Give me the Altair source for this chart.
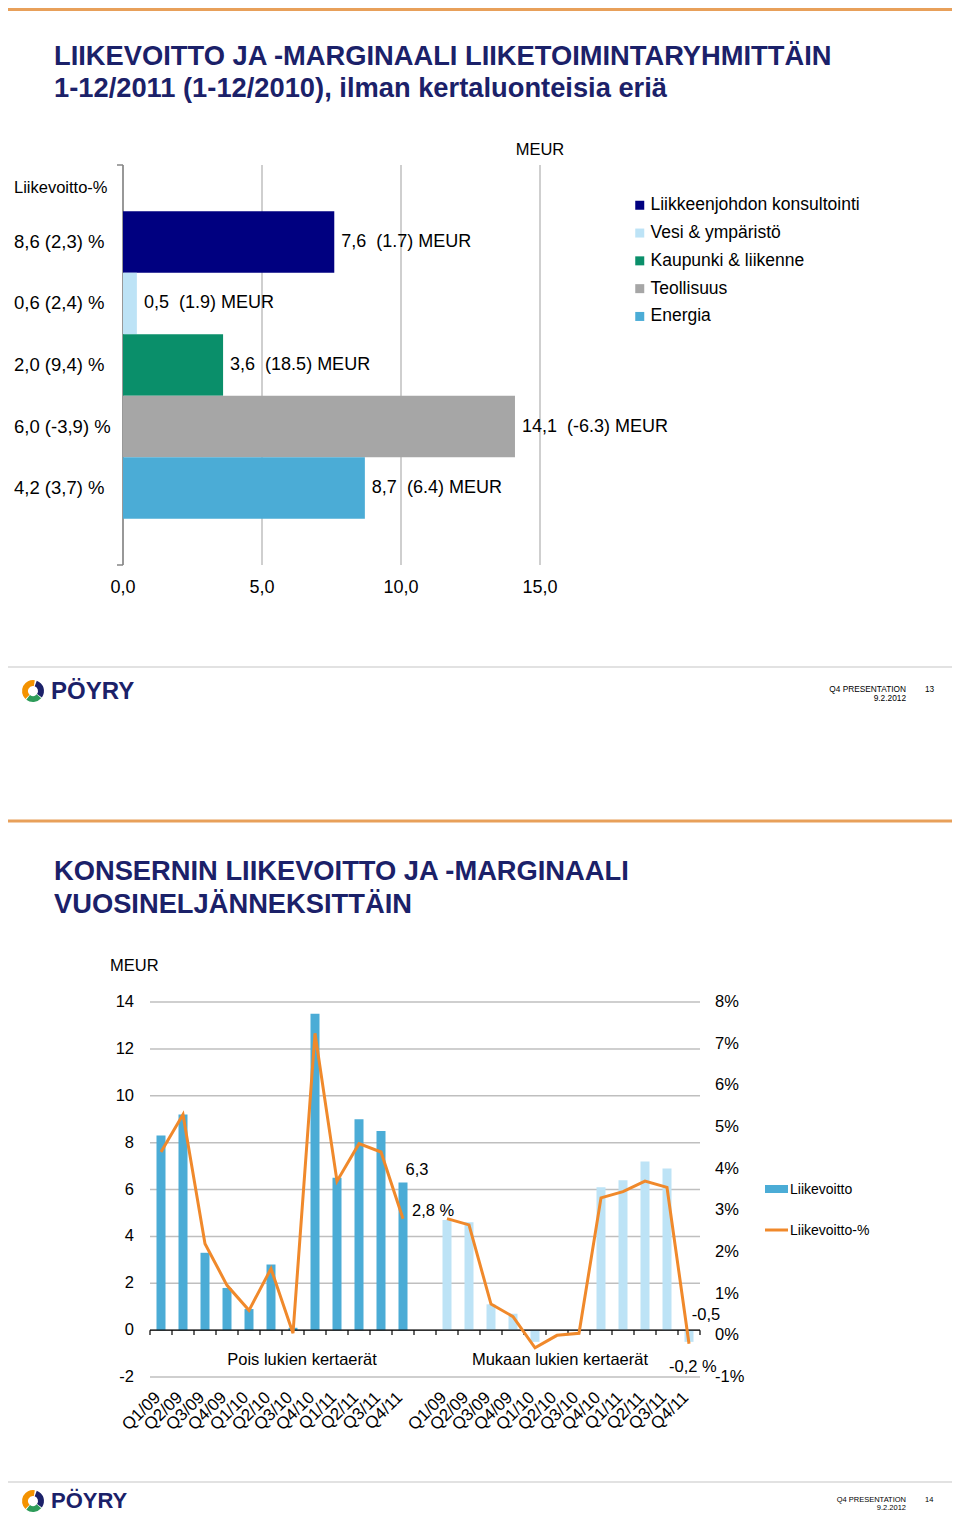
import altair as alt
import pandas as pd

FONT = "Liberation Sans, Arial, Helvetica, sans-serif"
NAVY_T = "#1B2169"
ORANGE_RULE = "#E8A05A"
GRID = "#BFBFBF"
AXIS_GRAY = "#868686"

# ---------------- slide 13 data ----------------
segments = ["Liikkeenjohdon konsultointi", "Vesi & ympäristö", "Kaupunki & liikenne", "Teollisuus", "Energia"]
op_2011 = [7.6, 0.5, 3.6, 14.1, 8.7]
op_2010 = [1.7, 1.9, 18.5, -6.3, 6.4]
margin_2011 = [8.6, 0.6, 2.0, 6.0, 4.2]
margin_2010 = [2.3, 2.4, 9.4, -3.9, 3.7]
seg_colors = ["#000080", "#BDE3F6", "#0A8F6A", "#A6A6A6", "#4BACD6"]
xticks_a = [0, 5, 10, 15]

# ---------------- slide 14 data ----------------
quarters = ["Q1/09", "Q2/09", "Q3/09", "Q4/09", "Q1/10", "Q2/10", "Q3/10", "Q4/10",
            "Q1/11", "Q2/11", "Q3/11", "Q4/11"]
excl_op = [8.3, 9.2, 3.3, 1.8, 0.9, 2.8, 0.1, 13.5, 6.5, 9.0, 8.5, 6.3]
excl_pct = [4.4, 5.3, 2.2, 1.2, 0.6, 1.6, 0.05, 7.25, 3.7, 4.6, 4.4, 2.8]
incl_op = [4.7, 4.6, 1.1, 0.7, -0.5, 0.0, 0.0, 6.1, 6.4, 7.2, 6.9, -0.5]
incl_pct = [2.8, 2.65, 0.75, 0.45, -0.3, 0.0, 0.05, 3.3, 3.45, 3.7, 3.55, -0.2]
yticks_left = [-2, 0, 2, 4, 6, 8, 10, 12, 14]
yticks_right = [-1, 0, 1, 2, 3, 4, 5, 6, 7, 8]


def fi(v):
    return f"{v:.1f}".replace(".", ",")


ONE = alt.Data(values=[{"k": 1}])


def T(text, x, y, size, color="black", weight="normal", align="left", baseline="alphabetic"):
    return alt.Chart(ONE).mark_text(text=text, fontSize=size, color=color, fontWeight=weight,
                                    align=align, baseline=baseline, font=FONT).encode(
        x=alt.value(x), y=alt.value(y))


def R(x, x2, y, y2, color, width):
    return alt.Chart(ONE).mark_rule(color=color, strokeWidth=width, strokeCap="butt").encode(
        x=alt.value(x), x2=alt.value(x2), y=alt.value(y), y2=alt.value(y2))


def logo(cx, cy, tx, ty, size):
    out = []
    for th1, th2, col in [(3.9, 6.45, "#F39200"), (0.35, 2.2, "#1B2169"), (2.3, 3.8, "#2E9C5A")]:
        out.append(alt.Chart(ONE).mark_arc(color=col).encode(
            x=alt.value(cx), y=alt.value(cy), theta=alt.value(th1), theta2=alt.value(th2),
            radius=alt.value(11), radius2=alt.value(5)))
    out.append(T("PÖYRY", tx, ty, size, NAVY_T, "bold"))
    return out


def footer(xr, y, y2, page, size):
    return [T("Q4 PRESENTATION", xr, y, size, align="right", baseline="middle"),
            T("9.2.2012", xr, y2, size, align="right", baseline="middle"),
            T(page, xr + 19, y, size, align="left", baseline="middle")]


# ================= slide 13 (horizontal bars) =================
ylabels = [f"{fi(a)} ({fi(b)}) %" for a, b in zip(margin_2011, margin_2010)]
barlabels = [f"{fi(a)}\u00a0\u00a0({b:.1f}) MEUR" for a, b in zip(op_2011, op_2010)]
dfA = pd.DataFrame({"segment": segments, "op": op_2011, "ylab": ylabels, "barlab": barlabels})
dfAx = pd.DataFrame({"v": xticks_a, "lab": [fi(v) for v in xticks_a]})

xA = alt.Scale(domain=[0, 15], nice=False, zero=True, range=[115, 532])
yA = alt.Scale(domain=ylabels, paddingInner=0, paddingOuter=0.75, range=[157, 557])

gridA = alt.Chart(dfAx).mark_rule(color=GRID, strokeWidth=1.5).encode(
    x=alt.X("v:Q", scale=xA, axis=None), y=alt.value(157), y2=alt.value(557))
axisA = alt.Chart(ONE).mark_rule(color=AXIS_GRAY, strokeWidth=1.5).encode(
    x=alt.X(datum=0, scale=xA, axis=None), y=alt.value(157), y2=alt.value(557))
barsA = alt.Chart(dfA).mark_bar().encode(
    x=alt.X("op:Q", scale=xA, axis=None),
    y=alt.Y("ylab:N", sort=ylabels, scale=yA, axis=None),
    color=alt.Color("segment:N", scale=alt.Scale(domain=segments, range=seg_colors),
                    legend=alt.Legend(orient="none", legendX=623, legendY=188.5, title=None,
                                      symbolType="square", symbolSize=81, symbolStrokeWidth=0,
                                      labelFontSize=17.5, labelFont=FONT, labelColor="black",
                                      labelLimit=400, rowPadding=8.8, labelOffset=2, padding=0)))
textA = alt.Chart(dfA).mark_text(align="left", baseline="middle", dx=7, fontSize=18, font=FONT,
                                 color="black").encode(
    x=alt.X("op:Q", scale=xA, axis=None),
    y=alt.Y("ylab:N", sort=ylabels, scale=yA, axis=None), text="barlab:N")
ylabA = alt.Chart(dfA).mark_text(align="left", baseline="middle", fontSize=18.5, font=FONT,
                                 color="black").encode(
    x=alt.value(6), y=alt.Y("ylab:N", sort=ylabels, scale=yA, axis=None), text="ylab:N")
xlabA = alt.Chart(dfAx).mark_text(align="center", baseline="middle", fontSize=18, font=FONT,
                                  color="black").encode(
    x=alt.X("v:Q", scale=xA, axis=None), y=alt.value(580), text="lab:N")
meurA = alt.Chart(ONE).mark_text(text="MEUR", fontSize=16.5, font=FONT, align="center",
                                 baseline="middle", color="black").encode(
    x=alt.X(datum=15, scale=xA, axis=None), y=alt.value(142))

decoA = [
    R(0, 944, 1.5, 1.5, ORANGE_RULE, 3),
    T("LIIKEVOITTO JA -MARGINAALI LIIKETOIMINTARYHMITTÄIN", 46, 57, 27.3, NAVY_T, "bold"),
    T("1-12/2011 (1-12/2010), ilman kertaluonteisia eriä", 46, 89, 27.3, NAVY_T, "bold"),
    T("Liikevoitto-%", 6, 180, 16.5, baseline="middle"),
    R(109, 115, 157, 157, AXIS_GRAY, 1.5),
    R(109, 115, 557, 557, AXIS_GRAY, 1.5),
    R(0, 944, 659, 659, "#D9D9D9", 1.5),
] + logo(25, 683, 43, 691, 24) + footer(898, 682, 691, "13", 8.3)

layerA = alt.layer(gridA, axisA, barsA, textA, ylabA, xlabA, meurA, *decoA)

# ================= slide 14 (quarterly) =================
cats = ["A_" + q for q in quarters] + ["gap"] + ["B_" + q for q in quarters]
rows = []
for i, q in enumerate(quarters):
    rows.append({"cat": "A_" + q, "grp": "excl", "op": excl_op[i], "pct": excl_pct[i], "idx": i, "lab": q})
for i, q in enumerate(quarters):
    rows.append({"cat": "B_" + q, "grp": "incl", "op": incl_op[i], "pct": incl_pct[i], "idx": i, "lab": q})
dfB = pd.DataFrame(rows)
dfCats = pd.DataFrame({"cat": cats})
dfYL = pd.DataFrame({"v": yticks_left, "lab": [str(v) for v in yticks_left]})
dfYR = pd.DataFrame({"v": yticks_right, "lab": [f"{v}%" for v in yticks_right]})

xB = alt.Scale(domain=cats, paddingInner=0, paddingOuter=0, range=[142, 692])
yL = alt.Scale(domain=[-2, 14], nice=False, zero=True, range=[1369, 994])
yR = alt.Scale(domain=[-1, 8], nice=False, zero=True, range=[1369, 994])
XB = alt.X("cat:N", sort=cats, scale=xB, axis=None)

gridB = alt.Chart(dfYL).mark_rule(color=GRID, strokeWidth=1.5).encode(
    y=alt.Y("v:Q", scale=yL, axis=None), x=alt.value(142), x2=alt.value(692))
barsB = alt.Chart(dfB).mark_bar(width=9).encode(
    x=XB, y=alt.Y("op:Q", scale=yL, axis=None),
    color=alt.Color("grp:N", scale=alt.Scale(domain=["excl", "incl"], range=["#4BACD6", "#BDE3F6"]),
                    legend=None))
zeroB = alt.Chart(ONE).mark_rule(color="black", strokeWidth=1.2).encode(
    x=alt.value(142), x2=alt.value(692), y=alt.Y(datum=0, scale=yL, axis=None))
ticksB = alt.Chart(dfCats).mark_rule(color="black", strokeWidth=1.2).encode(
    x=alt.X("cat:N", sort=cats, scale=xB, axis=None, bandPosition=0),
    y=alt.Y(datum=0, scale=yL, axis=None), y2=alt.Y2(datum=-0.21))
lastTick = alt.Chart(ONE).mark_rule(color="black", strokeWidth=1.2).encode(
    x=alt.value(692), y=alt.Y(datum=0, scale=yL, axis=None), y2=alt.Y2(datum=-0.21))
ylabL = alt.Chart(dfYL).mark_text(align="right", baseline="middle", fontSize=16.5, font=FONT,
                                  color="black").encode(
    x=alt.value(126), y=alt.Y("v:Q", scale=yL, axis=None), text="lab:N")
xlabB = alt.Chart(dfB).mark_text(angle=315, align="right", baseline="middle", fontSize=17, font=FONT,
                                 color="black").encode(
    x=alt.X("cat:N", sort=cats, scale=xB, axis=None, bandPosition=0.36),
    y=alt.value(1387), text="lab:N")
lab63 = alt.Chart(pd.DataFrame({"cat": ["A_Q4/11"], "op": [excl_op[-1]], "lab": [fi(excl_op[-1])]})).mark_text(
    dx=14, dy=-12, fontSize=16.5, font=FONT, color="black", align="center", baseline="middle").encode(
    x=XB, y=alt.Y("op:Q", scale=yL, axis=None), text="lab:N")
labm05 = alt.Chart(pd.DataFrame({"cat": ["B_Q4/11"], "op": [incl_op[-1]], "lab": [fi(incl_op[-1])]})).mark_text(
    dx=17, dy=-27, fontSize=16.5, font=FONT, color="black", align="center", baseline="middle").encode(
    x=XB, y=alt.Y("op:Q", scale=yL, axis=None), text="lab:N")

lineB = alt.Chart(dfB).mark_line(color="#F0892B", strokeWidth=3).encode(
    x=XB, y=alt.Y("pct:Q", scale=yR, axis=None), detail="grp:N", order=alt.Order("idx:Q"))
ylabR = alt.Chart(dfYR).mark_text(align="left", baseline="middle", fontSize=16.5, font=FONT,
                                  color="black").encode(
    x=alt.value(707), y=alt.Y("v:Q", scale=yR, axis=None), text="lab:N")
lab28 = alt.Chart(pd.DataFrame({"cat": ["A_Q4/11"], "pct": [excl_pct[-1]], "lab": [fi(excl_pct[-1]) + " %"]})).mark_text(
    dx=9, dy=-8, fontSize=16.5, font=FONT, color="black", align="left", baseline="middle").encode(
    x=XB, y=alt.Y("pct:Q", scale=yR, axis=None), text="lab:N")
labm02 = alt.Chart(pd.DataFrame({"cat": ["B_Q4/11"], "pct": [incl_pct[-1]], "lab": [fi(incl_pct[-1]) + " %"]})).mark_text(
    dx=-20, dy=23, fontSize=16.5, font=FONT, color="black", align="left", baseline="middle").encode(
    x=XB, y=alt.Y("pct:Q", scale=yR, axis=None), text="lab:N")

decoB = [
    R(0, 944, 813, 813, ORANGE_RULE, 3),
    T("KONSERNIN LIIKEVOITTO JA -MARGINAALI", 46, 872, 27.3, NAVY_T, "bold"),
    T("VUOSINELJÄNNEKSITTÄIN", 46, 905, 27.3, NAVY_T, "bold"),
    T("MEUR", 102, 958, 16.5, baseline="middle"),
    T("Pois lukien kertaerät", 294, 1352, 16.5, align="center", baseline="middle"),
    T("Mukaan lukien kertaerät", 552, 1352, 16.5, align="center", baseline="middle"),
    alt.Chart(ONE).mark_rect(color="#4BACD6").encode(
        x=alt.value(757), x2=alt.value(780), y=alt.value(1177), y2=alt.value(1185)),
    T("Liikevoitto", 782, 1182, 14, baseline="middle"),
    R(757, 780, 1222, 1222, "#F0892B", 3),
    T("Liikevoitto-%", 782, 1223, 14, baseline="middle"),
    R(0, 944, 1474, 1474, "#D9D9D9", 1.5),
] + logo(25, 1493, 43, 1500, 22) + footer(898, 1492, 1500, "14", 7.5)

leftB = alt.layer(gridB, barsB, zeroB, ticksB, lastTick, ylabL, xlabB, lab63, labm05, *decoB)
rightB = alt.layer(lineB, ylabR, lab28, labm02)
layerB = alt.layer(leftB, rightB).resolve_scale(y="independent")

chart = alt.layer(layerA, layerB).resolve_scale(
    x="independent", y="independent", color="independent"
).properties(
    width=944, height=1505, padding=0, autosize=alt.AutoSizeParams(type="none")
).configure_view(strokeWidth=0)

chart.save("out.html", embed_options={"renderer": "svg", "actions": False})
